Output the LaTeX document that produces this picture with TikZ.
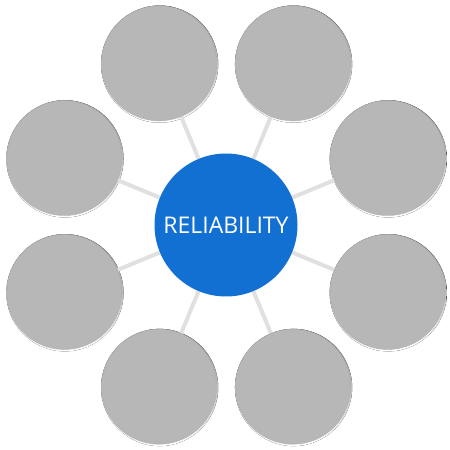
\documentclass[tikz,border=0pt]{standalone}
\usepackage{fontspec}
\setmainfont{Open Sans}
\usetikzlibrary{calc,backgrounds}
\definecolor{hubblue}{RGB}{17,112,209}
\definecolor{petal}{RGB}{183,183,183}
\definecolor{petaledge}{RGB}{174,174,174}
\definecolor{spoke}{RGB}{224,224,224}
\definecolor{shade}{RGB}{228,228,228}
\begin{document}
\begin{tikzpicture}[x=1pt,y=1pt,
  hub/.style={circle,fill=hubblue,minimum size=143pt,inner sep=0pt,text=white,font=\fontsize{23}{27}\selectfont},
  petalnode/.style={circle,fill=petal,draw=petaledge,line width=0.4pt,minimum size=115pt,inner sep=0pt},
  spokeline/.style={draw=spoke,line width=4pt}]
\useasboundingbox (0,0) rectangle (450,450);
\node[hub] (c) at (226,225) {RELIABILITY};
\foreach \i/\a in {1/112.5,2/67.5,3/22.5,4/-22.5,5/-67.5,6/-112.5,7/-157.5,8/157.5}{
  \node[petalnode] (n\i) at ($(226,225)+(\a:175)$) {};
}
\begin{pgfonlayer}{background}
\foreach \i in {1,...,8}{
  \fill[shade] ($(n\i.center)+(0.6,-0.8)$) circle (58.6);
}
\foreach \i in {1,...,8}{
  \draw[spokeline] (c) -- (n\i);
}
\end{pgfonlayer}
\end{tikzpicture}
\end{document}
